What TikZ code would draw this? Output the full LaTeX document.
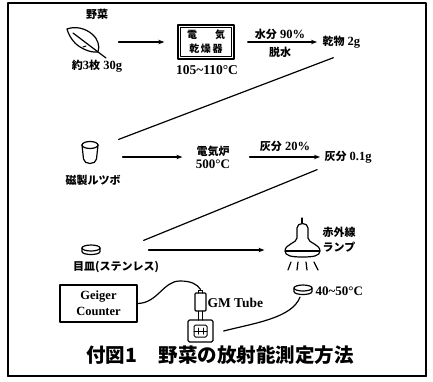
\documentclass[tikz,border=0pt]{standalone}
\usepackage{fontspec}
\setmainfont{Liberation Serif}
\newfontfamily\cjk{Noto Sans CJK JP}
\usetikzlibrary{arrows.meta,calc}
\newcommand\jp[1]{{\cjk\fontsize{11}{13}\selectfont #1}}
\begin{document}
\begin{tikzpicture}[x=1pt,y=-1pt,
  line width=1.2pt, line cap=round, line join=round,
  arr/.style={-{Stealth[length=6pt,width=4.5pt]}},
  lbl/.style={inner sep=0pt, font=\bfseries\fontsize{12.5}{14}\selectfont},
  num/.style={inner sep=0pt, font=\bfseries\fontsize{13.5}{15}\selectfont},
  slot/.style={inner sep=0pt, minimum width=#1}]
\useasboundingbox (0,0) rectangle (433,381);
% outer frame
\draw[line width=1.5pt] (8,3) rectangle (426,376);
\draw[line width=2.2pt] (8,376) -- (426,376);

% --- row 1: fresh leaves -> drying oven -> dry matter
\node[lbl] (veg) at (97,14) {\jp{野菜}};
\node[slot=40pt, minimum height=32pt] (leaf) at (87,42) {};
\draw (67,29) .. controls (75,26) and (85,28) .. (92,34)
      .. controls (98,39) and (100,46) .. (98,52)
      .. controls (90,53) and (80,48) .. (75,43)
      .. controls (71,39) and (68,33) .. (67,29) -- cycle;
\draw (73,33) -- (106,58);
\draw[line width=1pt] (83,47) -- (86,46);
\node[lbl] (leafw) at (97,66) {\jp{約}3\jp{枚} 30g};

\node[draw, line width=1.4pt, slot=56pt, minimum height=34pt] (dryer) at (206,42) {};
\draw[line width=0.6pt] ([shift={(3,3)}]dryer.north west) rectangle ([shift={(-3,-3)}]dryer.south east);
\node[inner sep=0pt, align=center, font=\bfseries\fontsize{10}{14}\selectfont] (dryertxt) at (206,42)
  {{\cjk 電}\hspace{1.8em}{\cjk 気}\\{\cjk 乾\,燥\,器}};
\node[num] (t1) at (207,70) {105\textasciitilde110°C};
\draw[arr] ([xshift=11pt]leaf.east) -- ([xshift=-13pt]dryer.west);

\node[lbl, anchor=west] (dry) at (322,42) {\jp{乾物} 2g};
\draw[arr] ([xshift=13pt]dryer.east) -- ([xshift=-5pt]dry.west);
\node[lbl] (water) at (280,34) {\jp{水分} 90\%};
\node[lbl] (dehyd) at (280,52) {\jp{脱水}};

% --- row 2: crucible -> electric furnace -> ash
\node[slot=22pt, minimum height=26pt] (cru) at (90,153) {};
\draw (90,145) ellipse [x radius=8, y radius=3.5];
\draw (82,145) -- (83.5,159) .. controls (84,165) and (96,165) .. (96.5,159) -- (98,145);
\node[lbl] (crulbl) at (93,180) {\jp{磁製ルツボ}};
\draw ([shift={(-8,9)}]dry.south) -- ([xshift=17pt]cru.north east);

\node[inner sep=0pt, align=center, font=\bfseries\fontsize{11}{13}\selectfont] (fur) at (213,157)
  {\jp{電気炉}\\{\fontsize{13}{13}\selectfont 500°C}};
\draw[arr] ([xshift=21pt]cru.east |- fur.east) -- ([xshift=-13pt]fur.west);

\node[lbl, anchor=west] (ash) at (324,157) {\jp{灰分} 0.1g};
\draw[arr] ([xshift=19pt]fur.east) -- ([xshift=-4pt]ash.west |- fur.east);
\node[lbl] (ashpct) at (285,146) {\jp{灰分} 20\%};

% --- row 3: stainless dish -> infrared lamp
\node[slot=20pt, minimum height=12pt] (dish) at (91,250) {};
\draw (91,248) ellipse [x radius=9, y radius=3];
\draw (82,248) -- (82,251.5) .. controls (82,255.5) and (100,255.5) .. (100,251.5) -- (100,248);
\node[lbl] (dishlbl) at (116,267) {\jp{目皿(ステンレス)}};
\draw ([shift={(-31,6)}]ash.south) -- ([shift={(42,-3)}]dish.north east);

\node[slot=38pt, minimum height=54pt] (lamp) at (302,244) {};
\draw (302,218) -- (302,223);
\draw (297,228) -- (297,238) .. controls (297,243) and (285,244) .. (285,251)
      .. controls (285,256) and (292,257) .. (302.5,257)
      .. controls (313,257) and (320,256) .. (320,251)
      .. controls (320,244) and (308,243) .. (308,238) -- (308,228)
      .. controls (308,222) and (297,222) .. (297,228) -- cycle;
\draw (285.5,251) -- (319.5,251);
\draw (291,262) -- (288,270);
\draw (298,262) -- (297,270);
\draw (306,262) -- (307,270);
\draw (314,262) -- (318,270);
\node[inner sep=0pt, anchor=north west, align=left, font=\bfseries\fontsize{11}{15}\selectfont] (lamptxt) at (322,226)
  {\jp{赤外線}\\\jp{ランプ}};
\draw[arr] ([xshift=47pt]dish.east) -- ($(dish.east -| lamp.west)+(-18,0)$);

\node[slot=22pt, minimum height=11pt] (dish2) at (303,291) {};
\draw (303,288) ellipse [x radius=9, y radius=3];
\draw (294,288) -- (294,291.5) .. controls (294,295.5) and (312,295.5) .. (312,291.5) -- (312,288);
\node[inner sep=0pt, anchor=west, font=\bfseries\fontsize{13}{14}\selectfont] (t3) at (315,291) {40\textasciitilde50°C};

% --- counting: GM tube on its sample holder, wired to the counter
\node[draw, line width=1.2pt, slot=77pt, minimum height=37pt, align=center,
      font=\bfseries\fontsize{12.5}{16}\selectfont] (counter) at (98.5,303.5) {Geiger\\Counter};

\node[draw, line width=1.2pt, rounded corners=1.5pt, slot=25pt, minimum height=22pt] (holder) at (200.5,331) {};
\draw[line width=1pt, rounded corners=1.5pt] (194,325) rectangle (207,337);
\draw[line width=1pt] (194,331) -- (207,331);
\draw[line width=1pt] (198,328) -- (198,334) (203,328) -- (203,334);

\node[draw, line width=1.2pt, rounded corners=1pt, slot=11pt, minimum height=18pt] (gm) at (200.5,302) {};
\draw[line width=1pt] (198.5,293) -- (198.5,290) -- (202.5,290) -- (202.5,293);
\draw[line width=1pt] (198.5,311) -- (198.5,320) (202.5,311) -- (202.5,320);
\node[num, anchor=west] (gmlbl) at (207,303) {GM Tube};

\draw (counter.east) .. controls (158,303) and (163,281) .. (180,281)
      .. controls (191,281) and (197,284) .. ([yshift=3pt]gm.north);
\draw ([xshift=-3pt]dish2.south) .. controls (292,318) and (255,323) .. ([xshift=10pt]holder.east);

% caption
\node[inner sep=0pt, font=\cjk\bfseries\fontsize{19.5}{21}\selectfont] (cap) at (220,355)
  {付図1\hspace{1.1em}野菜の放射能測定方法};
\end{tikzpicture}
\end{document}
